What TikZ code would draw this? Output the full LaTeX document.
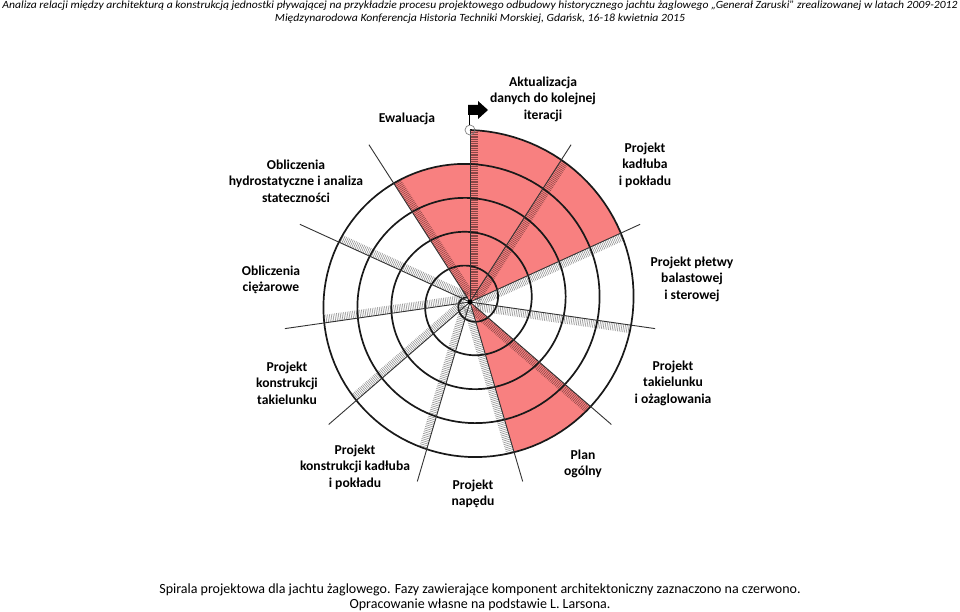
\documentclass[tikz,border=0pt]{standalone}
\usepackage{fontspec}
\setmainfont{Carlito}
\usepackage{graphicx}
\definecolor{spiralred}{RGB}{248,128,128}

\begin{document}
\begin{tikzpicture}[x=1pt, y=-1pt,
  lbl/.style={font=\fontsize{13.6}{16.5}\selectfont\bfseries, align=center, inner sep=0pt},
  hdr/.style={font=\fontsize{11}{14}\selectfont\itshape, inner sep=0pt},
  captiontext/.style={font=\fontsize{14}{16}\selectfont, inner sep=0pt},
  spiralline/.style={line width=1.7pt, black!90},
  spoke/.style={line width=0.9pt, black!80},
  tick/.style={line width=0.55pt, black, opacity=0.45},
  redzone/.style={fill=spiralred}
]
\useasboundingbox[fill=white] (0,0) rectangle (960,612);

% header
\node[hdr] (hdr1) at (480,6) {\resizebox{955pt}{\height}{Analiza relacji między architekturą a konstrukcją jednostki pływającej na przykładzie procesu projektowego odbudowy historycznego jachtu żaglowego „Generał Zaruski” zrealizowanej w latach 2009-2012}};
\node[hdr] (hdr2) at (480,19) {\resizebox{410pt}{\height}{Międzynarodowa Konferencja Historia Techniki Morskiej, Gdańsk, 16-18 kwietnia 2015}};

\coordinate (hub) at (470,302);

\begin{scope}[shift={(hub)}, yscale=-1]
  % phases with architectural component
  \fill[redzone] (0,0) -- plot[domain=327.27:360, samples=20, variable=\t] ({90-\t}:{172-0.094444*\t})
    -- (90:172) -- plot[domain=0:65.45, samples=30, variable=\t] ({90-\t}:{172-0.094444*\t}) -- cycle;
  \fill[redzone] (0,0) -- plot[domain=130.91:163.64, samples=20, variable=\t] ({90-\t}:{172-0.094444*\t}) -- cycle;
  % hatched bands along the spokes
  \foreach \k in {0,...,10} {
    \pgfmathsetmacro\a{90-\k*360/11}
    \pgfmathsetmacro\rout{172-34*\k/11}
    \foreach \r in {6,7.8,...,\rout}
      \draw[tick] (\a:\r) -- ++(\a-90:8);
  }
  % spiral
  \draw[spiralline] plot[domain=0:1770, samples=600, variable=\t] ({90-\t}:{172-0.094444*\t});
  % spokes
  \draw[spoke] (0,0) -- (90:172);
  \foreach \k in {1,...,10}
    \draw[spoke] (0,0) -- ({90-\k*360/11}:187);
  \fill (0,0) circle (2.5);
  \draw[gray, line width=0.7pt] (90:172) circle (5);
\end{scope}

% start marker
\fill (468,105) -- (478,105) -- (478,101) -- (488,110) -- (478,119) -- (478,115) -- (468,115) -- cycle;
\draw[line width=1pt] (469.5,114) -- (469.5,125);

% phase labels
\node[lbl] (aktual) at (543,99) {Aktualizacja\\danych do kolejnej\\iteracji};
\node[lbl] (kadlub) at (645,165) {Projekt\\kadłuba\\i pokładu};
\node[lbl] (pletwa) at (692,279) {Projekt płetwy\\balastowej\\i sterowej};
\node[lbl] (takiel) at (673,383) {Projekt\\takielunku\\i ożaglowania};
\node[lbl] (plan) at (583,464) {Plan\\ogólny};
\node[lbl] (naped) at (473,494) {Projekt\\napędu};
\node[lbl] (konkad) at (355,467) {Projekt\\konstrukcji kadłuba\\i pokładu};
\node[lbl] (kontak) at (287,383) {Projekt\\konstrukcji\\takielunku};
\node[lbl] (ciezar) at (271,280) {Obliczenia\\ciężarowe};
\node[lbl] (hydro) at (296,181) {Obliczenia\\hydrostatyczne i analiza\\stateczności};
\node[lbl] (ewal) at (407,119) {Ewaluacja};

% caption
\node[captiontext] (cap1) at (480,590) {Spirala projektowa dla jachtu żaglowego. Fazy zawierające komponent architektoniczny zaznaczono na czerwono.};
\node[captiontext] (cap2) at (480,605) {Opracowanie własne na podstawie L. Larsona.};

\end{tikzpicture}
\end{document}
